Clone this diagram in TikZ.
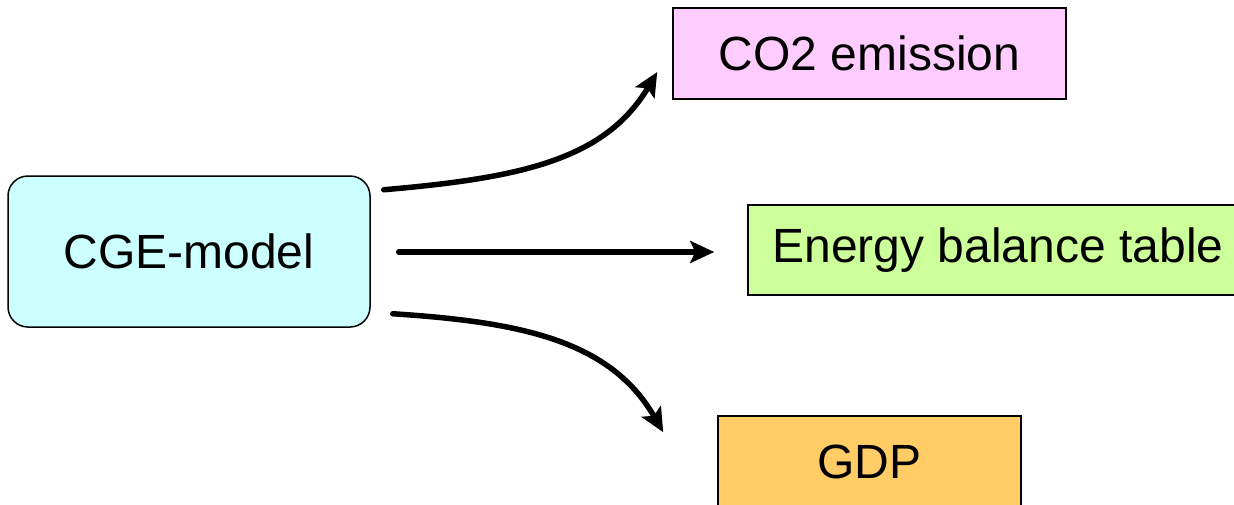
\documentclass[tikz,border=0pt]{standalone}
\usepackage{fontspec}
\setmainfont{Liberation Sans}
\usetikzlibrary{arrows.meta,calc}
\definecolor{cgecol}{HTML}{CCFFFF}
\definecolor{co2col}{HTML}{FFCCFF}
\definecolor{enercol}{HTML}{CCFF99}
\definecolor{gdpcol}{HTML}{FFCC66}
\tikzset{
  box/.style={draw=black, line width=1.5pt, inner sep=0pt, align=center,
    font=\fontsize{48}{56}\selectfont},
  flow/.style={line width=5.5pt, line cap=round,
    -{Stealth[length=24pt, width=22pt, inset=5pt]}}
}
\begin{document}
\begin{tikzpicture}[x=1pt, y=-1pt]
  \clip (0,0) rectangle (1234,504);
  \fill[white] (0,0) rectangle (1234,504);

  % source model
  \node[box, fill=cgecol, rounded corners=20pt, minimum width=362pt, minimum height=151pt]
    (cge) at (189,251.5) {CGE-model};

  % outputs
  \node[box, fill=co2col, minimum width=393pt, minimum height=91pt]
    (co2) at (869.5,53.5) {CO2 emission};
  \node[box, fill=enercol, minimum width=500pt, minimum height=90pt]
    (ener) at (998,250) {Energy balance table};
  \node[box, fill=gdpcol, minimum width=303pt, minimum height=92pt]
    (gdp) at (869.5,462) {GDP};

  % connector end points
  \coordinate (s1) at ($(cge.north east)+(13,14.5)$);
  \coordinate (e1) at ($(co2.west)+(-15,18.5)$);
  \coordinate (s2) at ($(cge.east)+(28,0.5)$);
  \coordinate (e2) at ($(ener.west)+(-33,2)$);
  \coordinate (s3) at ($(cge.south east)+(22,-14)$);
  \coordinate (e3) at ($(gdp.north west)+(-54,17)$);

  \draw[flow] (s1) .. controls (520,178) and (605,160) .. (e1);
  \draw[flow] (s2) -- (e2);
  \draw[flow] (s3) .. controls (520,322) and (610,340) .. (e3);
\end{tikzpicture}
\end{document}
